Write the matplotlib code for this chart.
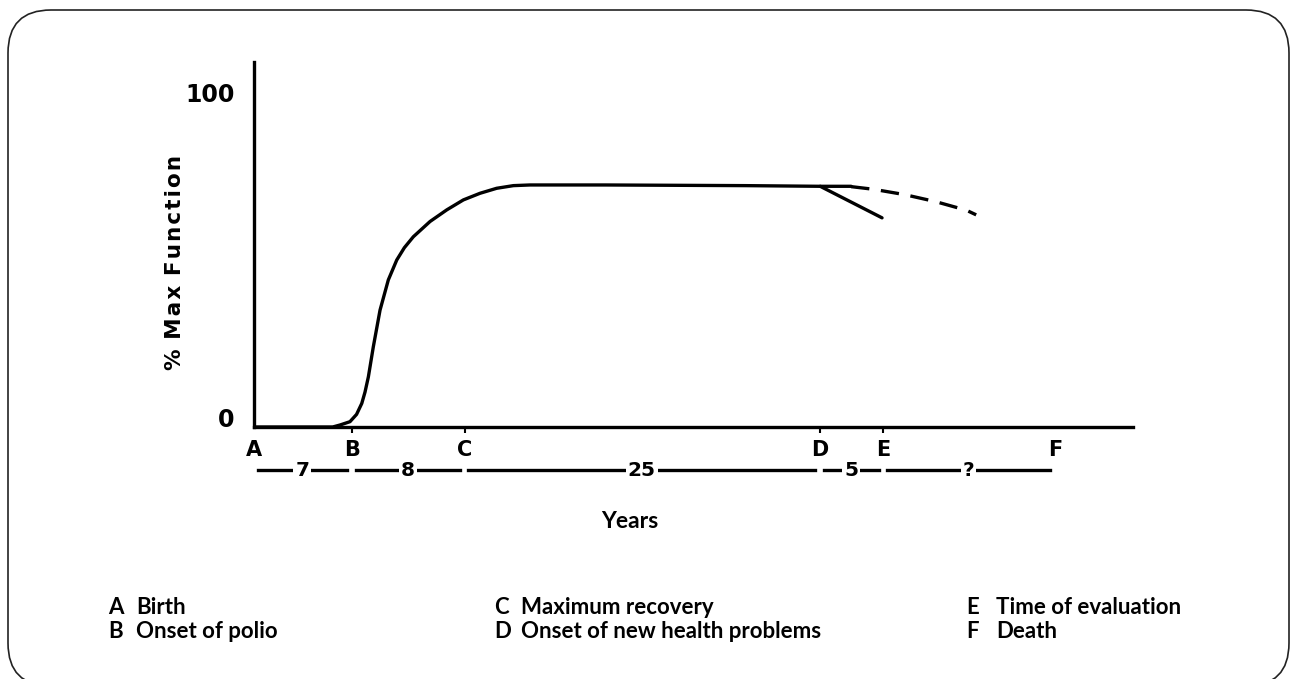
import matplotlib
matplotlib.use("Agg")
import matplotlib.pyplot as plt
from matplotlib.patches import FancyBboxPatch
from matplotlib.transforms import blended_transform_factory

# ---- data ----
event_letters = ["A", "B", "C", "D", "E", "F"]
event_years = [0, 7, 15, 40.3, 44.8, 57]
durations = ["7", "8", "25", "5", "?"]
y_tick_values = [0, 100]
y_tick_labels = ["0", "100"]

# main recovery curve (years, % max function)
curve_x = [0, 5.6, 6.12, 6.83, 7.3, 7.67, 7.9, 8.14, 8.49, 8.97, 9.56, 10.16, 10.7,
           11.34, 12.53, 13.72, 14.90, 16.09, 17.27, 18.46, 19.64, 21.07, 25.0,
           30.0, 35.0, 40.3, 42.5]
curve_y = [0, 0, 0.6, 1.6, 3.8, 7.1, 10.5, 15.1, 24.1, 35.2, 44.3, 50.3, 54.0,
           57.3, 61.9, 65.4, 68.4, 70.4, 71.9, 72.7, 72.9, 72.9, 72.9,
           72.8, 72.7, 72.5, 72.5]
# decline after onset of new health problems (solid)
decline_x = [40.3, 44.7]
decline_y = [72.5, 63.0]
# projected course (dashed)
proj_x = [42.5, 44.1, 46.3, 48.5, 50.7, 51.4]
proj_y = [72.4, 71.6, 70.0, 67.9, 65.3, 63.9]

legend_left = [("A", "Birth"), ("B", "Onset of polio")]
legend_mid = [("C", "Maximum recovery"), ("D", "Onset of new health problems")]
legend_right = [("E", "Time of evaluation"), ("F", "Death")]

W, H = 1291, 679
fig = plt.figure(figsize=(W / 100, H / 100), dpi=100)

# rounded frame
frame = FancyBboxPatch((0.08, -0.07), 12.81, 6.76,
                       boxstyle="round,pad=0,rounding_size=0.43",
                       transform=fig.dpi_scale_trans, fill=False,
                       edgecolor="#222222", linewidth=1.2)
fig.patches.append(frame)

ax_l, ax_r, ax_t, ax_b = 254, 1133, 62, 427
ax = fig.add_axes([ax_l / W, (H - ax_b) / H, (ax_r - ax_l) / W, (ax_b - ax_t) / H])
px_per_year = 14.05
ax.set_xlim(0, (ax_r - ax_l) / px_per_year)
ax.set_ylim(0, (ax_b - ax_t) / 3.32)

lw = 2.4
ax.plot(curve_x, curve_y, color="black", lw=lw, solid_capstyle="round",
        solid_joinstyle="round")
ax.plot(decline_x, decline_y, color="black", lw=lw, solid_capstyle="round")
ax.plot(proj_x, proj_y, color="black", lw=lw, dashes=(5.5, 3.5))

for s in ["top", "right"]:
    ax.spines[s].set_visible(False)
for s in ["left", "bottom"]:
    ax.spines[s].set_linewidth(lw)
    ax.spines[s].set_color("black")

graph_font = "DejaVu Sans"
# y labels drawn as annotations (no tick marks)
ax.set_yticks([])
y_offsets = [5, 0]
for val, lab, dy in zip(y_tick_values, y_tick_labels, y_offsets):
    ax.annotate(lab, xy=(0, val), xycoords=("axes fraction", "data"),
                xytext=(-14, dy), textcoords="offset points",
                ha="right", va="center", fontsize=17, fontweight="bold",
                family=graph_font, annotation_clip=False)

ax.set_xticks(event_years)
ax.set_xticklabels(event_letters, fontsize=15, fontweight="bold", family=graph_font)
ax.tick_params(axis="x", length=4, width=1.5, pad=5, direction="out")
ax.xaxis.get_major_ticks()[0].tick1line.set_visible(False)
ax.xaxis.get_major_ticks()[5].tick1line.set_visible(False)

ylab = "%\u200a M\u200aa\u200ax\u200a F\u200au\u200an\u200ac\u200at\u200ai\u200ao\u200an"
fig.text(175 / W, 1 - 263 / H, ylab, rotation=90, ha="center", va="center",
         fontsize=15.5, fontweight="bold", family=graph_font)

# duration row
trans = blended_transform_factory(ax.transData, fig.transFigure)
y_row = 1 - 470 / H
for i, lab in enumerate(durations):
    x0, x1 = event_years[i] + 0.25, event_years[i + 1] - 0.35
    ax.plot([x0, x1], [y_row, y_row], transform=trans, color="black",
            lw=2.4, clip_on=False)
    ax.text((x0 + x1) / 2, y_row, lab, transform=trans, ha="center", va="center",
            fontsize=14.5, fontweight="bold", family=graph_font,
            bbox=dict(facecolor="white", edgecolor="none", pad=1.5))

text_font = ["Lato", "DejaVu Sans"]
fig.text(630 / W, 1 - 521 / H, "Years", ha="center", va="center",
         fontsize=16.5, fontweight="bold", family=text_font)

def legend_col(items, x_letter, x_text):
    for (letter, desc), y in zip(items, [608, 632]):
        fig.text(x_letter / W, 1 - y / H, letter, ha="left", va="center",
                 fontsize=16, fontweight="bold", family=text_font)
        fig.text(x_text / W, 1 - y / H, desc, ha="left", va="center",
                 fontsize=16, fontweight="bold", family=text_font)

legend_col(legend_left, 108, 136)
legend_col(legend_mid, 494, 521)
legend_col(legend_right, 966, 996)

fig.savefig("out.png", dpi=100)
